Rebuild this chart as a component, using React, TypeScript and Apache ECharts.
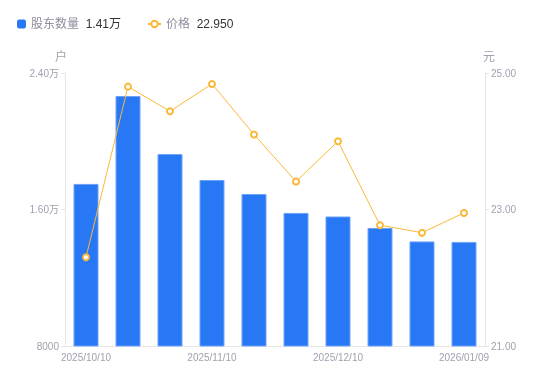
import React, { useEffect, useRef } from "react";
import * as echarts from "echarts";

const categories = [
  "2025/10/10", "2025/10/20", "2025/10/31", "2025/11/10", "2025/11/20",
  "2025/11/28", "2025/12/10", "2025/12/19", "2025/12/31", "2026/01/09",
];
const holders = [17500, 22650, 19250, 17730, 16910, 15800, 15590, 14920, 14130, 14100];
const prices = [22.3, 24.8, 24.44, 24.84, 24.1, 23.41, 24.0, 22.77, 22.66, 22.95];
const holderTicks = { min: 8000, max: 24000, interval: 8000 };
const priceTicks = { min: 21, max: 25, interval: 2 };

const fmtHolders = (v: number) => (v >= 10000 ? (v / 10000).toFixed(2) + "万" : String(v));

const BLUE = "#2878f5";
const ORANGE = "#f9b938";
const AXIS_TEXT = "#a0a0b0";

export default function App() {
  const ref = useRef<HTMLDivElement>(null);
  useEffect(() => {
    if (!ref.current) return;
    const chart = echarts.init(ref.current, undefined, { renderer: "svg" });
    const lastH = holders[holders.length - 1];
    const lastP = prices[prices.length - 1];
    const rich = {
      n: { color: "#8e8e9e", fontSize: 12 },
      v: { color: "#333333", fontSize: 12 },
    };
    chart.setOption({
      animation: false,
      textStyle: { fontFamily: "'Liberation Sans', Arial, 'Noto Sans CJK SC', sans-serif" },
      legend: [
        {
          left: 12,
          top: 13,
          itemWidth: 9,
          itemHeight: 9,
          data: [
            {
              name: "股东数量",
              icon: "roundRect",
              itemStyle: { color: BLUE, borderWidth: 0 },
            },
          ],
          formatter: (name: string) => `{n|${name}}  {v|${(lastH / 10000).toFixed(2)}万}`,
          textStyle: { rich },
        },
        {
          left: 142,
          top: 13,
          itemWidth: 13,
          itemHeight: 8,
          data: [{ name: "价格" }],
          formatter: (name: string) => `{n|${name}}  {v|${lastP.toFixed(3)}}`,
          textStyle: { rich },
        },
      ],
      grid: { left: 65, right: 65, top: 73, bottom: 35 },
      xAxis: {
        type: "category",
        data: categories,
        axisLine: { lineStyle: { color: "#e6e6e6" } },
        axisTick: { show: false },
        axisLabel: {
          color: AXIS_TEXT,
          fontSize: 10,
          interval: 2,
          margin: 6,
        },
      },
      yAxis: [
        {
          type: "value",
          name: "户",
          nameTextStyle: { color: AXIS_TEXT, fontSize: 12, padding: [0, 8, 0, 0] },
          nameGap: 10,
          min: holderTicks.min,
          max: holderTicks.max,
          interval: holderTicks.interval,
          axisLine: { show: true, lineStyle: { color: "#e6e6e6" } },
          axisTick: { show: true, length: 4, lineStyle: { color: "#e6e6e6" } },
          splitLine: { show: false },
          axisLabel: { color: AXIS_TEXT, fontSize: 10, margin: 6, formatter: fmtHolders },
        },
        {
          type: "value",
          name: "元",
          nameTextStyle: { color: AXIS_TEXT, fontSize: 12, padding: [0, 0, 0, 8] },
          nameGap: 10,
          min: priceTicks.min,
          max: priceTicks.max,
          interval: priceTicks.interval,
          axisLine: { show: true, lineStyle: { color: "#e6e6e6" } },
          axisTick: { show: true, length: 4, lineStyle: { color: "#e6e6e6" } },
          splitLine: { show: false },
          axisLabel: {
            color: AXIS_TEXT,
            fontSize: 10,
            margin: 6,
            formatter: (v: number) => v.toFixed(2),
          },
        },
      ],
      series: [
        {
          name: "股东数量",
          type: "bar",
          yAxisIndex: 0,
          data: holders,
          barWidth: 25,
          itemStyle: { color: BLUE, borderColor: "#6fa3f7", borderWidth: 1 },
        },
        {
          name: "价格",
          type: "line",
          yAxisIndex: 1,
          data: prices,
          symbol: "circle",
          symbolSize: 6,
          lineStyle: { color: ORANGE, width: 1 },
          itemStyle: { color: "#ffffff", borderColor: ORANGE, borderWidth: 2 },
        },
      ],
    });
    return () => chart.dispose();
  }, []);
  return (
    <div
      ref={ref}
      style={{ position: "fixed", left: 0, top: 0, width: 550, height: 381 }}
    />
  );
}
